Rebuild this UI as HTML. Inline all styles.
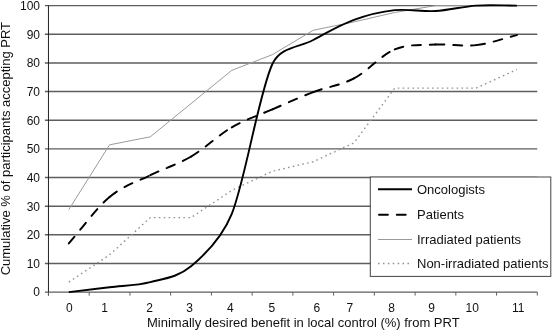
<!DOCTYPE html>
<html><head><meta charset="utf-8"><style>
html,body{margin:0;padding:0;background:#fff;}
body{width:553px;height:331px;overflow:hidden;position:relative;}
svg{position:absolute;left:0;top:0;will-change:transform;}
text{font-family:"Liberation Sans",sans-serif;fill:#111;}
.tl{font-size:12px;}
.tt{font-size:13px;}
</style></head><body>
<svg width="553" height="331" viewBox="0 0 553 331">
<line x1="44.9" y1="292.10" x2="537.30" y2="292.10" stroke="#5e5e5e" stroke-width="1.45"/>
<line x1="44.9" y1="263.45" x2="537.30" y2="263.45" stroke="#5e5e5e" stroke-width="1.45"/>
<line x1="44.9" y1="234.80" x2="537.30" y2="234.80" stroke="#5e5e5e" stroke-width="1.45"/>
<line x1="44.9" y1="206.15" x2="537.30" y2="206.15" stroke="#5e5e5e" stroke-width="1.45"/>
<line x1="44.9" y1="177.50" x2="537.30" y2="177.50" stroke="#5e5e5e" stroke-width="1.45"/>
<line x1="44.9" y1="148.85" x2="537.30" y2="148.85" stroke="#5e5e5e" stroke-width="1.45"/>
<line x1="44.9" y1="120.20" x2="537.30" y2="120.20" stroke="#5e5e5e" stroke-width="1.45"/>
<line x1="44.9" y1="91.55" x2="537.30" y2="91.55" stroke="#5e5e5e" stroke-width="1.45"/>
<line x1="44.9" y1="62.90" x2="537.30" y2="62.90" stroke="#5e5e5e" stroke-width="1.45"/>
<line x1="44.9" y1="34.25" x2="537.30" y2="34.25" stroke="#5e5e5e" stroke-width="1.45"/>
<line x1="44.9" y1="5.60" x2="537.30" y2="5.60" stroke="#5e5e5e" stroke-width="1.45"/>

<line x1="48.46" y1="5.60" x2="48.46" y2="295.6" stroke="#222"/>
<line x1="48.46" y1="292.10" x2="48.46" y2="295.6" stroke="#5e5e5e"/>
<line x1="89.20" y1="292.10" x2="89.20" y2="295.6" stroke="#5e5e5e"/>
<line x1="129.93" y1="292.10" x2="129.93" y2="295.6" stroke="#5e5e5e"/>
<line x1="170.67" y1="292.10" x2="170.67" y2="295.6" stroke="#5e5e5e"/>
<line x1="211.41" y1="292.10" x2="211.41" y2="295.6" stroke="#5e5e5e"/>
<line x1="252.14" y1="292.10" x2="252.14" y2="295.6" stroke="#5e5e5e"/>
<line x1="292.88" y1="292.10" x2="292.88" y2="295.6" stroke="#5e5e5e"/>
<line x1="333.62" y1="292.10" x2="333.62" y2="295.6" stroke="#5e5e5e"/>
<line x1="374.35" y1="292.10" x2="374.35" y2="295.6" stroke="#5e5e5e"/>
<line x1="415.09" y1="292.10" x2="415.09" y2="295.6" stroke="#5e5e5e"/>
<line x1="455.83" y1="292.10" x2="455.83" y2="295.6" stroke="#5e5e5e"/>
<line x1="496.56" y1="292.10" x2="496.56" y2="295.6" stroke="#5e5e5e"/>
<line x1="537.30" y1="292.10" x2="537.30" y2="295.6" stroke="#5e5e5e"/>

<polyline points="68.83,282.07 109.56,254.86 150.30,217.61 191.04,217.61 231.78,190.39 272.51,171.20 313.25,161.74 353.98,142.83 394.72,88.11 435.46,88.11 476.19,88.11 516.93,69.49" fill="none" stroke="#939393" stroke-width="1.4" stroke-dasharray="1.6,3.3"/>
<polyline points="68.83,209.59 109.56,144.84 150.30,136.82 191.04,103.58 231.78,70.35 272.51,54.59 313.25,30.24 353.98,21.93 394.72,12.48 435.46,5.60 476.19,5.60 516.93,5.60" fill="none" stroke="#9a9a9a" stroke-width="1"/>
<path d="M68.83,243.40 C82.41,227.92 95.99,208.35 109.56,196.98" fill="none" stroke="#000" stroke-width="1.95" stroke-linecap="round" stroke-dasharray="8.9,8.9"/><path d="M109.56,196.98 C123.14,185.62 136.72,181.94 150.30,175.21" fill="none" stroke="#000" stroke-width="1.95" stroke-linecap="round" stroke-dasharray="8.9,8.9"/><path d="M150.30,175.21 C163.88,168.48 177.46,164.56 191.04,156.59" fill="none" stroke="#000" stroke-width="1.95" stroke-linecap="round" stroke-dasharray="8.9,8.9"/><path d="M191.04,156.59 C204.62,148.61 218.20,135.24 231.78,127.36" fill="none" stroke="#000" stroke-width="1.95" stroke-linecap="round" stroke-dasharray="8.9,8.9"/><path d="M231.78,127.36 C245.35,119.48 258.93,115.19 272.51,109.31" fill="none" stroke="#000" stroke-width="1.95" stroke-linecap="round" stroke-dasharray="8.9,8.9"/><path d="M272.51,109.31 C286.09,103.44 299.67,97.28 313.25,92.12" fill="none" stroke="#000" stroke-width="1.95" stroke-linecap="round" stroke-dasharray="8.9,8.9"/><path d="M313.25,92.12 C326.83,86.97 340.41,85.49 353.98,78.37" fill="none" stroke="#000" stroke-width="1.95" stroke-linecap="round" stroke-dasharray="8.9,8.9"/><path d="M353.98,78.37 C367.56,71.26 381.14,55.07 394.72,49.43" fill="none" stroke="#000" stroke-width="1.95" stroke-linecap="round" stroke-dasharray="8.9,8.9"/><path d="M394.72,49.43 C408.30,43.80 421.88,45.28 435.46,44.56" fill="none" stroke="#000" stroke-width="1.95" stroke-linecap="round" stroke-dasharray="8.9,8.9"/><path d="M435.46,44.56 C449.04,43.85 462.62,46.71 476.19,45.14" fill="none" stroke="#000" stroke-width="1.95" stroke-linecap="round" stroke-dasharray="8.9,8.9"/><path d="M476.19,45.14 C489.77,43.56 503.35,38.45 516.93,35.11" fill="none" stroke="#000" stroke-width="1.95" stroke-linecap="round" stroke-dasharray="8.9,8.9"/>
<path d="M68.83,292.10 C82.41,290.48 95.99,288.90 109.56,287.23 C123.14,285.56 136.72,285.56 150.30,282.07 C163.88,278.59 177.64,277.53 191.04,266.31 C204.62,254.95 221.86,238.53 231.78,213.89 C245.35,180.13 258.93,92.74 272.51,63.76 C280.52,46.67 299.67,47.29 313.25,39.98 C326.83,32.67 340.41,24.89 353.98,19.93 C367.56,14.96 381.14,11.66 394.72,10.18 C408.30,8.70 421.88,11.81 435.46,11.04 C449.04,10.28 462.62,6.51 476.19,5.60 C489.77,4.69 503.35,5.60 516.93,5.60" fill="none" stroke="#000" stroke-width="1.9"/>
<rect x="370.3" y="177.0" width="180.5" height="99.4" fill="#fff" stroke="#444" stroke-width="1"/>
<line x1="378" y1="189.3" x2="412" y2="189.3" stroke="#000" stroke-width="1.9"/>
<line x1="379" y1="214.8" x2="412" y2="214.8" stroke="#000" stroke-width="1.95" stroke-linecap="round" stroke-dasharray="8.9,8.9"/>
<line x1="378" y1="239.5" x2="412" y2="239.5" stroke="#9a9a9a" stroke-width="1"/>
<line x1="378" y1="263.5" x2="412" y2="263.5" stroke="#939393" stroke-width="1.4" stroke-dasharray="1.6,3.3"/>
<g class="tt">
<text x="417" y="193.8">Oncologists</text>
<text x="417" y="219">Patients</text>
<text x="417" y="244">Irradiated patients</text>
<text x="417" y="268">Non-irradiated patients</text>
<text x="147" y="327.4">Minimally desired benefit in local control (%) from PRT</text>
<text transform="translate(10,148.65) rotate(-90)" text-anchor="middle">Cumulative % of participants accepting PRT</text>
</g>
<g class="tl">
<text x="40" y="296.4" text-anchor="end">0</text>
<text x="40" y="267.8" text-anchor="end">10</text>
<text x="40" y="239.1" text-anchor="end">20</text>
<text x="40" y="210.5" text-anchor="end">30</text>
<text x="40" y="181.8" text-anchor="end">40</text>
<text x="40" y="153.2" text-anchor="end">50</text>
<text x="40" y="124.5" text-anchor="end">60</text>
<text x="40" y="95.9" text-anchor="end">70</text>
<text x="40" y="67.2" text-anchor="end">80</text>
<text x="40" y="38.5" text-anchor="end">90</text>
<text x="40" y="9.9" text-anchor="end">100</text>

<text x="69.4" y="311.6" text-anchor="middle">0</text>
<text x="104.7" y="311.6" text-anchor="middle">1</text>
<text x="149.5" y="311.6" text-anchor="middle">2</text>
<text x="189.5" y="311.6" text-anchor="middle">3</text>
<text x="230.4" y="311.6" text-anchor="middle">4</text>
<text x="271.8" y="311.6" text-anchor="middle">5</text>
<text x="316.8" y="311.6" text-anchor="middle">6</text>
<text x="349.8" y="311.6" text-anchor="middle">7</text>
<text x="391.5" y="311.6" text-anchor="middle">8</text>
<text x="431.6" y="311.6" text-anchor="middle">9</text>
<text x="472.2" y="311.6" text-anchor="middle">10</text>
<text x="518.2" y="311.6" text-anchor="middle">11</text>

</g>
</svg>
</body></html>
